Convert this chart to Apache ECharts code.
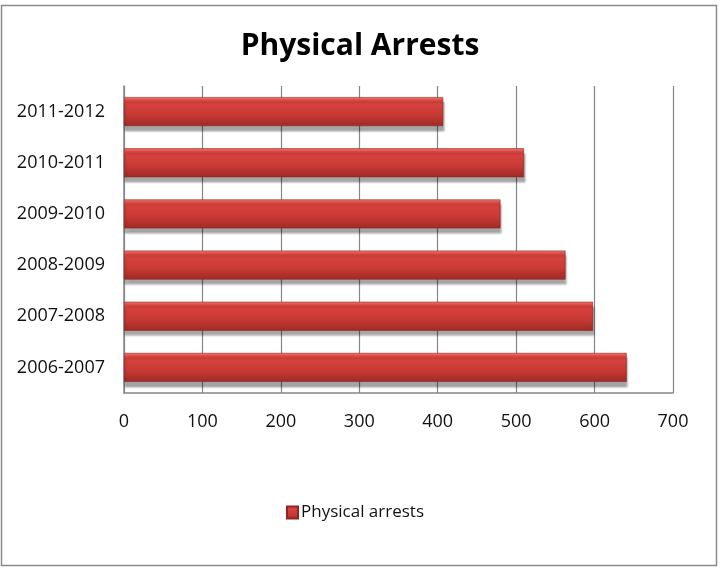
<!DOCTYPE html>
<html>
<head>
<meta charset="utf-8">
<script src="https://cdn.jsdelivr.net/npm/echarts@6/dist/echarts.min.js"></script>
<style>html,body{margin:0;padding:0;background:#fff;}#c{width:720px;height:571px;}</style>
</head>
<body>
<div id="c"></div>
<script>
const title = 'Physical Arrests';
const seriesName = 'Physical arrests';
const categories = ['2006-2007', '2007-2008', '2008-2009', '2009-2010', '2010-2011', '2011-2012'];
const values = [641, 598, 563, 480, 510, 407];
const xTicks = [0, 100, 200, 300, 400, 500, 600, 700];

const font = '"Open Sans", "DejaVu Sans", sans-serif';
const chart = echarts.init(document.getElementById('c'), null, {renderer: 'canvas'});
const barGrad = new echarts.graphic.LinearGradient(0, 0, 0, 1, [
  {offset: 0, color: '#ee7a74'},
  {offset: 0.12, color: '#dc4540'},
  {offset: 0.6, color: '#c93a35'},
  {offset: 1, color: '#9e2a26'}
]);
chart.setOption({
  backgroundColor: '#fff',
  animation: false,
  graphic: [{
    type: 'rect', shape: {x: 1.5, y: 5.5, width: 715, height: 560},
    style: {fill: 'none', stroke: '#8a8a8a', lineWidth: 1.5}, silent: true, z: -1
  }],
  title: {
    text: title, left: 'center', top: 26,
    textStyle: {fontFamily: font, fontWeight: 'bold', fontSize: 30, color: '#000'}
  },
  legend: {
    data: [seriesName], left: 281, top: 499, icon: 'rect',
    itemWidth: 11, itemHeight: 12, itemGap: 4,
    textStyle: {fontFamily: font, fontSize: 17, color: '#111', padding: [0, 0, 0, -2]}
  },
  grid: {left: 124, right: 47, top: 86, bottom: 178, containLabel: false},
  xAxis: {
    type: 'value', min: xTicks[0], max: xTicks[xTicks.length - 1], interval: 100,
    axisLine: {show: true, lineStyle: {color: '#868686', width: 1.5}},
    axisTick: {show: false},
    splitLine: {show: true, lineStyle: {color: '#868686', width: 1.2}},
    axisLabel: {fontFamily: font, fontSize: 18, color: '#111', margin: 20}
  },
  yAxis: {
    type: 'category', data: categories,
    axisLine: {show: true, lineStyle: {color: '#868686', width: 1.5}},
    axisTick: {show: false},
    axisLabel: {fontFamily: font, fontSize: 18, color: '#111', margin: 19}
  },
  series: [{
    name: seriesName, type: 'bar', data: values, barWidth: 29,
    itemStyle: {
      color: barGrad,
      borderColor: '#8e2622', borderWidth: 0.6,
      shadowColor: 'rgba(0,0,0,0.35)', shadowOffsetY: 5, shadowOffsetX: 1, shadowBlur: 2
    }
  }]
});
</script>
</body>
</html>
